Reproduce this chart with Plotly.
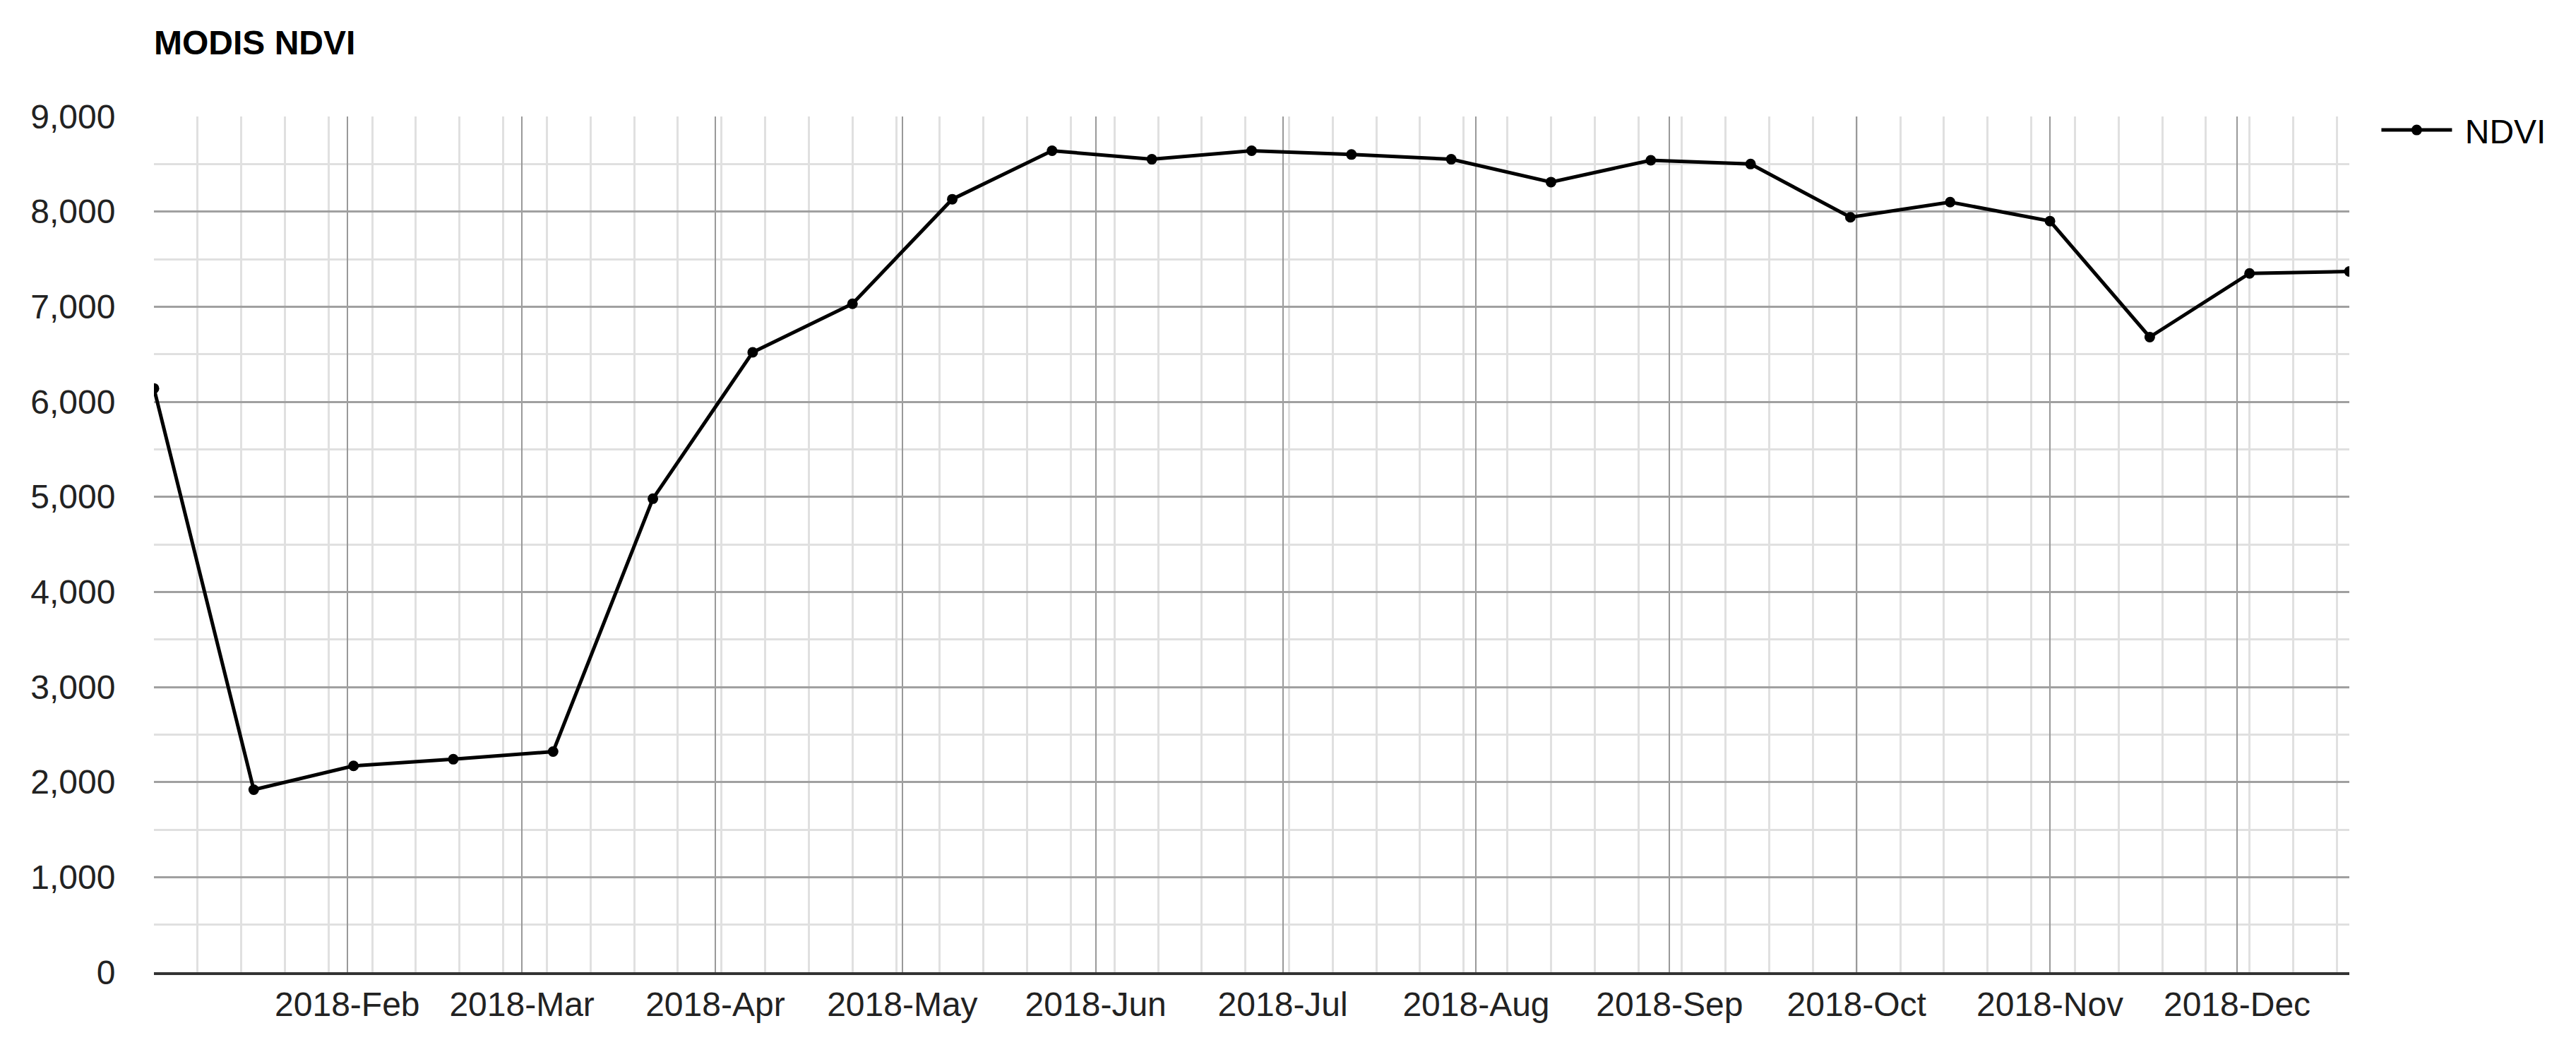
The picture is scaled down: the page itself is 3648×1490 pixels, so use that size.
import plotly.graph_objects as go

# MODIS 16-day composite dates and NDVI values (scaled x10000)
dates = [
    "2018-01-01", "2018-01-17", "2018-02-02", "2018-02-18", "2018-03-06",
    "2018-03-22", "2018-04-07", "2018-04-23", "2018-05-09", "2018-05-25",
    "2018-06-10", "2018-06-26", "2018-07-12", "2018-07-28", "2018-08-13",
    "2018-08-29", "2018-09-14", "2018-09-30", "2018-10-16", "2018-11-01",
    "2018-11-17", "2018-12-03", "2018-12-19",
]
ndvi = [
    6140, 1920, 2170, 2240, 2320,
    4980, 6520, 7030, 8130, 8640,
    8550, 8640, 8600, 8550, 8310,
    8540, 8500, 7940, 8100, 7900,
    6680, 7350, 7370,
]
month_ticks = [
    "2018-02-01", "2018-03-01", "2018-04-01", "2018-05-01", "2018-06-01",
    "2018-07-01", "2018-08-01", "2018-09-01", "2018-10-01", "2018-11-01",
    "2018-12-01",
]

FONT = "Liberation Sans, Arial, sans-serif"
WEEK_MS = 7 * 24 * 3600 * 1000
# page body has an 8px margin, so the figure is a bit smaller than the window
W, H = 3640, 1482

fig = go.Figure()
fig.add_trace(go.Scatter(
    x=dates, y=ndvi, name="\u00a0NDVI", mode="lines+markers",
    line=dict(color="#000000", width=5),
    marker=dict(color="#000000", size=15),
))

fig.update_layout(
    width=W, height=H,
    margin=dict(l=210, r=321, t=157, b=113),
    paper_bgcolor="white", plot_bgcolor="white",
    font=dict(family=FONT, size=48, color="#222222"),
    title=dict(
        text="<b>MODIS NDVI</b>", x=0, xref="paper", xanchor="left",
        y=1 - 52 / H, yref="container", yanchor="middle",
        font=dict(family=FONT, size=48, color="#000000"),
    ),
    showlegend=True,
    legend=dict(
        x=1.013, xanchor="left", y=0.984, yanchor="middle",
        font=dict(family=FONT, size=48, color="#000000"),
        itemwidth=100, bgcolor="rgba(0,0,0,0)",
    ),
)

fig.update_xaxes(
    type="date", range=["2018-01-01", "2018-12-19"],
    tickmode="array", tickvals=month_ticks, tickformat="%Y-%b",
    showgrid=True, gridcolor="#999999", gridwidth=2,
    minor=dict(dtick=WEEK_MS, tick0="2018-01-01", showgrid=True,
               gridcolor="#e0e0e0", gridwidth=3),
    showline=True, linecolor="#333333", linewidth=4,
    ticks="", automargin=False,
    zeroline=False,
)

fig.update_yaxes(
    range=[0, 9000], dtick=1000, tick0=0, tickformat=",d",
    showgrid=True, gridcolor="#a0a0a0", gridwidth=3,
    minor=dict(dtick=500, showgrid=True, gridcolor="#e0e0e0", gridwidth=3),
    zeroline=False, showline=False, automargin=False,
    ticks="outside", ticklen=44, tickcolor="rgba(0,0,0,0)",
)

fig.write_html("out.html")
